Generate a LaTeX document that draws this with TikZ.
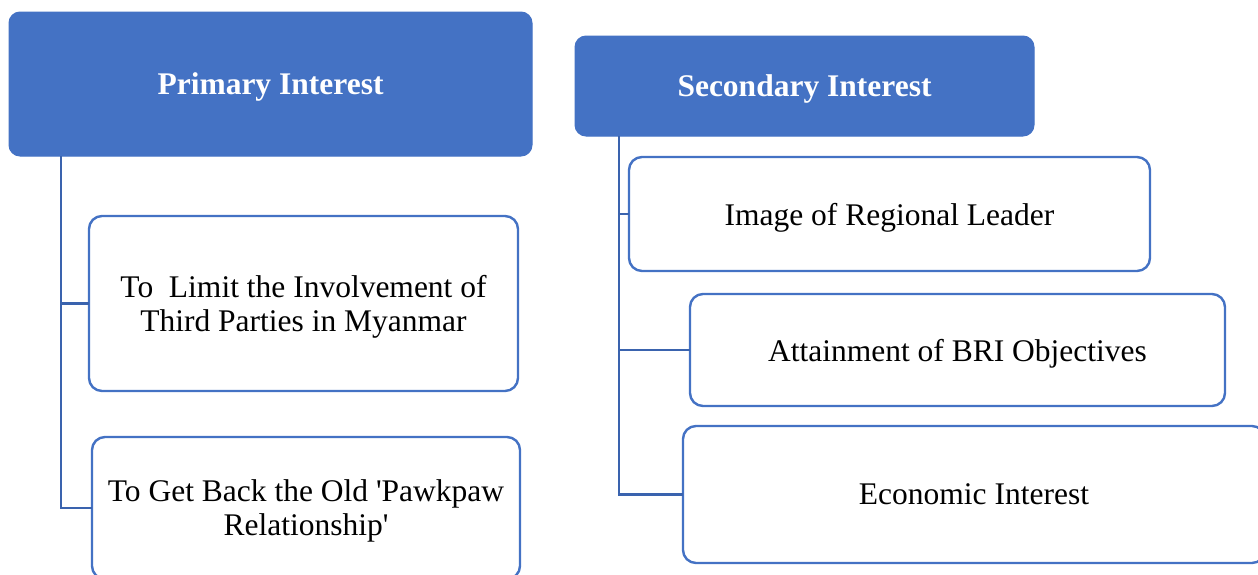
\documentclass[tikz,border=0pt]{standalone}
\usepackage{fontspec}
\setmainfont{Liberation Serif}
\definecolor{boxblue}{HTML}{4472C4}
\definecolor{connblue}{HTML}{3A63AE}
\begin{document}
\begin{tikzpicture}[x=1pt,y=-1pt,
  title/.style={draw=boxblue, fill=boxblue, rounded corners=11pt, text=white,
    font=\bfseries\fontsize{31.5}{34}\selectfont, anchor=north west,
    inner sep=0pt, outer sep=0pt, line width=1pt, text depth=0pt},
  item/.style={draw=boxblue, fill=white, rounded corners=13pt, line width=2.4pt,
    font=\fontsize{31.5}{34}\selectfont, align=center, anchor=north west,
    inner sep=0pt, outer sep=0pt, text depth=0pt},
  conn/.style={draw=connblue, line width=2.7pt}]
\useasboundingbox (0,0) rectangle (1258,574);
% left column
\node[title, minimum width=523pt, minimum height=144pt] (prim) at (9,12) {Primary Interest};
\node[item, minimum width=429pt, minimum height=175pt] (b1) at (89,216)
  {To\ \ Limit the Involvement of\\Third Parties in Myanmar};
\node[item, minimum width=428pt, minimum height=142pt] (b2) at (92,437)
  {To Get Back the Old \textquotesingle Pawkpaw\\Relationship\textquotesingle};
\draw[conn] ([xshift=52pt]prim.south west) |- (b1.west);
\draw[conn] ([xshift=52pt]prim.south west) |- (b2.west);
% right column
\node[title, minimum width=459pt, minimum height=100pt] (sec) at (575,36) {Secondary Interest};
\node[item, minimum width=521pt, minimum height=114pt] (sa) at (629,157) {Image of Regional Leader};
\node[item, minimum width=535pt, minimum height=112pt] (sb) at (690,294) {Attainment of BRI Objectives};
\node[item, minimum width=582pt, minimum height=137pt] (sc) at (683,426) {Economic Interest};
\draw[conn] ([xshift=44pt]sec.south west) |- (sa.west);
\draw[conn] ([xshift=44pt]sec.south west) |- (sb.west);
\draw[conn] ([xshift=44pt]sec.south west) |- (sc.west);
\end{tikzpicture}
\end{document}
